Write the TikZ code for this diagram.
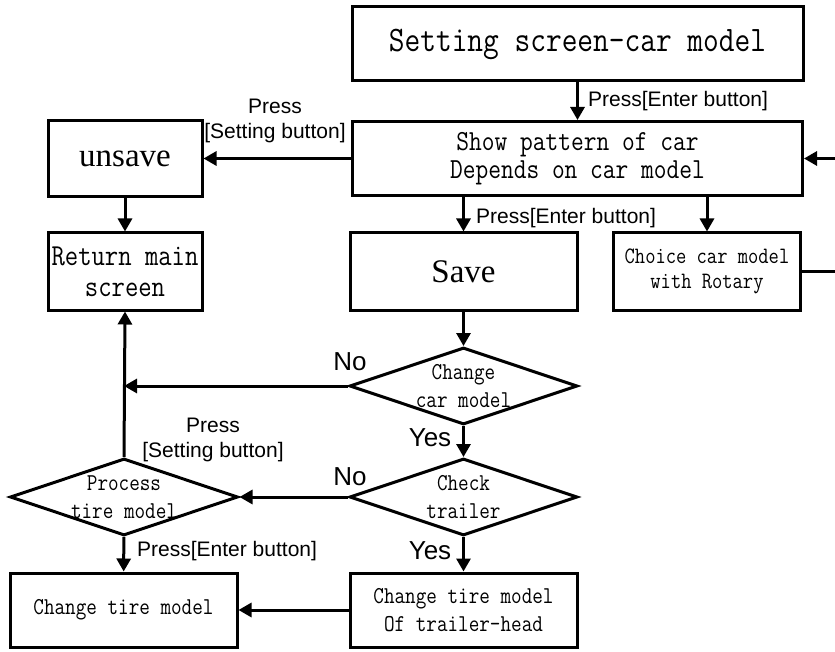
\documentclass[tikz,border=0pt]{standalone}
\usepackage{fontspec}
\setmainfont{Liberation Serif}
\newfontfamily\cnf[FakeStretch=0.85]{Latin Modern Mono}
\newfontfamily\labf{Liberation Sans}
\usetikzlibrary{shapes.geometric,arrows.meta}
\begin{document}
\begin{tikzpicture}[x=1pt,y=-1pt,
  bx/.style={draw, line width=3pt, rectangle, inner sep=0pt, align=center},
  dm/.style={draw, line width=3pt, diamond, inner sep=0pt, minimum width=228pt, minimum height=77pt},
  dtxt/.style={inner sep=0pt, align=center, font=\cnf\fontsize{24.2}{28}\selectfont},
  ar/.style={line width=3pt, -{Triangle[length=13pt,width=14pt]}},
  lbl/.style={font=\labf\fontsize{21}{25}\selectfont, inner sep=0pt, align=center},
  yn/.style={font=\labf\fontsize{26}{28}\selectfont, inner sep=0pt}]
\useasboundingbox (0,0) rectangle (835,652);
\clip (0,0) rectangle (835,652);
% boxes
\node[bx, minimum width=451pt, minimum height=74pt, font=\cnf\fontsize{35.9}{37}\selectfont] (top) at (577.5,44) {Setting screen-car model};
\node[bx, minimum width=450pt, minimum height=74pt, font=\cnf\fontsize{29.1}{28}\selectfont] (show) at (577.5,158.5) {Show pattern of car\\Depends on car model};
\node[bx, minimum width=154pt, minimum height=76pt, font=\fontsize{33}{36}\selectfont] (uns) at (125,158.5) {unsave};
\node[bx, minimum width=154pt, minimum height=77pt, font=\cnf\fontsize{30.5}{31}\selectfont] (ret) at (125,271.5) {Return main\\screen};
\node[bx, minimum width=227pt, minimum height=77pt, font=\fontsize{33}{36}\selectfont] (save) at (463.5,271.5) {Save};
\node[bx, minimum width=187pt, minimum height=77pt, font=\cnf\fontsize{23.5}{25}\selectfont] (cho) at (707,271.5) {Choice car model\\with Rotary};
\node[dm] (d1) at (463.5,386) {};
\node[dtxt] (d1t) at (d1) {Change\\car model};
\node[dm] (d2) at (463.5,497) {};
\node[dtxt] (d2t) at (d2) {Check\\trailer};
\node[dm] (d3) at (124,497) {};
\node[dtxt] (d3t) at (d3) {Process\\tire model};
\node[bx, minimum width=227pt, minimum height=74pt, font=\cnf\fontsize{24.2}{28}\selectfont] (b1) at (123.5,610) {Change tire model};
\node[bx, minimum width=227pt, minimum height=74pt, font=\cnf\fontsize{24.2}{28}\selectfont] (b2) at (463.5,610) {Change tire model\\Of trailer-head};
% helper coordinates
\coordinate (r1) at (850,271.5);
\coordinate (r2) at (850,158.5);
% connectors
\draw[ar] (top) -- (show);
\draw[ar] (show.west) -- (uns.east);
\draw[ar] (uns) -- (ret);
\draw[ar] (show.south -| save) -- (save);
\draw[ar] (show.south -| cho) -- (cho);
\draw[ar] (cho.east) -- (r1) -- (r2) -- (show.east);
\draw[ar] (save) -- (d1);
\draw[ar] (d1.west) -- (d1.west -| d3.north);
\draw[ar] (d3.north) -- (ret.south);
\draw[ar] (d1) -- (d2);
\draw[ar] (d2.west) -- (d3.east);
\draw[ar] (d2) -- (b2);
\draw[ar] (d3) -- (b1);
\draw[ar] (b2) -- (b1);
% labels
\node[lbl, anchor=west] (l1) at (588,101) {Press{[}Enter button{]}};
\node[lbl] (l2) at (275,120.5) {Press\\{[}Setting button{]}};
\node[lbl, anchor=west] (l3) at (476,218) {Press{[}Enter button{]}};
\node[lbl] (l4) at (213,440) {Press\\{[}Setting button{]}};
\node[lbl, anchor=west] (l5) at (137,551) {Press{[}Enter button{]}};
\node[yn] (n1) at (350,362) {No};
\node[yn] (n2) at (350,477) {No};
\node[yn] (y1) at (430,438) {Yes};
\node[yn] (y2) at (430,551) {Yes};
\end{tikzpicture}
\end{document}
